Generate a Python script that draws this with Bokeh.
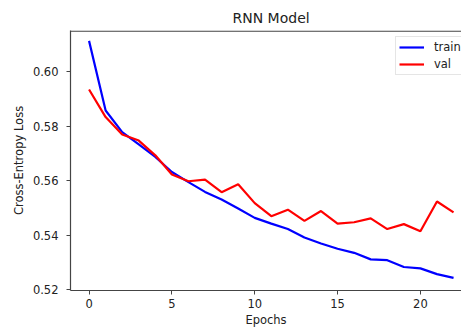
from bokeh.plotting import figure
from bokeh.models import Span, Legend, LegendItem, Range1d
from bokeh.embed import file_html
from bokeh.resources import INLINE

epochs = list(range(23))
train_loss = [0.6112, 0.5857, 0.5778, 0.5733, 0.5687, 0.5632, 0.5595, 0.5559,
              0.5531, 0.5498, 0.5464, 0.5443, 0.5423, 0.5392, 0.5370, 0.5351,
              0.5336, 0.5312, 0.5309, 0.5284, 0.5279, 0.5258, 0.5244]
val_loss = [0.5934, 0.5833, 0.5769, 0.5747, 0.5693, 0.5623, 0.5598, 0.5604,
            0.5558, 0.5587, 0.5518, 0.5470, 0.5494, 0.5453, 0.5489, 0.5443,
            0.5448, 0.5462, 0.5423, 0.5441, 0.5415, 0.5524, 0.5484]
x_ticks = [0, 5, 10, 15, 20]
y_ticks = [0.52, 0.54, 0.56, 0.58, 0.60]
y_tick_labels = {0.52: "0.52", 0.54: "0.54", 0.56: "0.56", 0.58: "0.58", 0.60: "0.60"}

FONT = "DejaVu Sans"
AX = "#444444"

p = figure(width=461, height=329, output_backend="svg", toolbar_location=None,
           x_range=Range1d(-1.12, 22.48), y_range=Range1d(0.5198, 0.6150),
           min_border_left=70, min_border_right=0, min_border_top=30,
           min_border_bottom=39)
p.title.text = "RNN Model"
p.title.align = "left"
p.title.offset = 162
p.title.text_font = FONT
p.title.text_font_size = "14px"
p.title.text_font_style = "normal"
p.title.text_color = "#222222"
p.title.standoff = 10

p.outline_line_color = None
p.grid.visible = False
p.background_fill_color = "white"
p.border_fill_color = "white"

for ax in (p.xaxis[0], p.yaxis[0]):
    ax.axis_line_color = AX
    ax.axis_line_width = 1.2
    ax.major_tick_line_color = AX
    ax.major_tick_out = 4
    ax.major_tick_in = 0
    ax.minor_tick_line_color = None
    ax.major_label_text_font = FONT
    ax.major_label_text_font_size = "11.5px"
    ax.major_label_text_color = "#222222"
    ax.axis_label_text_font = FONT
    ax.axis_label_text_font_size = "11.5px"
    ax.axis_label_text_font_style = "normal"
    ax.axis_label_text_color = "#222222"

p.xaxis.ticker = x_ticks
p.xaxis.axis_label = "Epochs"
p.xaxis.major_label_standoff = 4
p.xaxis.axis_label_standoff = 2
p.yaxis.ticker = y_ticks
p.yaxis.major_label_overrides = y_tick_labels
p.yaxis.axis_label = "Cross-Entropy Loss"
p.yaxis.major_label_standoff = 8
p.yaxis.axis_label_standoff = 4

top_spine = Span(location=0.6148, dimension="width", line_color=AX, line_width=1.2)
p.add_layout(top_spine)

r_train = p.line(epochs, train_loss, line_color="#0000ff", line_width=2.2)
r_val = p.line(epochs, val_loss, line_color="#ff0000", line_width=2.2)

legend = Legend(items=[LegendItem(label="train", renderers=[r_train]),
                       LegendItem(label="val", renderers=[r_val])],
                location=(325, 215), margin=0, padding=3, spacing=3,
                glyph_width=25, glyph_height=10, label_height=10,
                label_standoff=10, label_text_font=FONT,
                label_text_font_size="11.5px", label_text_color="#222222",
                border_line_color="#cccccc", border_line_width=1,
                background_fill_color="white", background_fill_alpha=0.8)
p.add_layout(legend)

open("out.html", "w").write(file_html(p, INLINE))
